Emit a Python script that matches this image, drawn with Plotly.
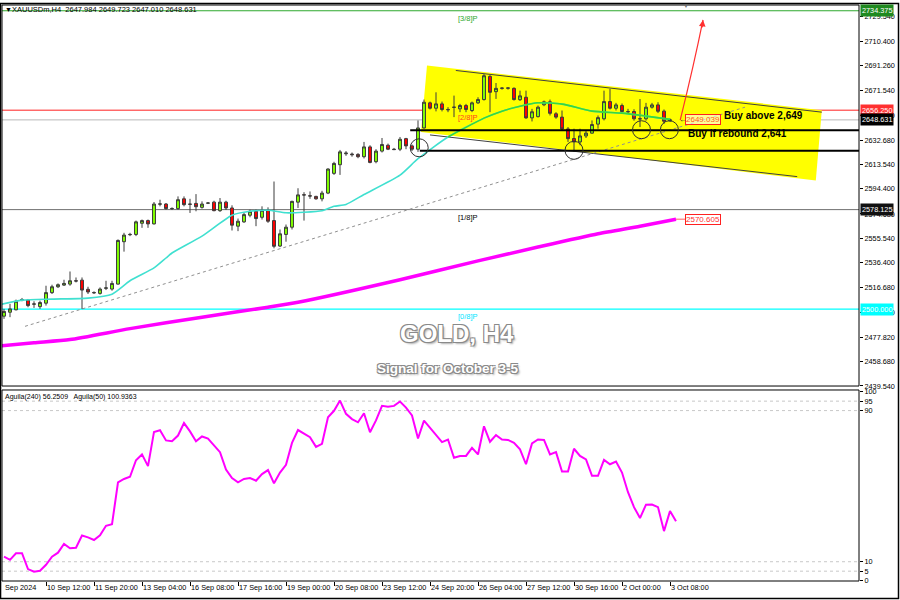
import plotly.graph_objects as go

# ---------------- data ----------------
bar_index = list(range(112))
open_ = [2494.4, 2497.5, 2499.4, 2507.0, 2507.1, 2503.8, 2501.9, 2504.6, 2512.9, 2517.5,
         2518.8, 2519.6, 2522.2, 2522.7, 2515.5, 2513.0, 2512.3, 2516.3, 2515.7, 2519.6,
         2552.9, 2558.4, 2558.6, 2567.4, 2569.5, 2566.9, 2582.4, 2582.5, 2578.9, 2578.9,
         2586.6, 2582.5, 2583.0, 2579.9, 2583.2, 2584.0, 2577.3, 2584.0, 2579.4, 2565.1,
         2568.5, 2573.7, 2576.8, 2572.1, 2577.6, 2569.5, 2549.5, 2558.6, 2564.3, 2584.0,
         2589.8, 2589.0, 2588.5, 2586.6, 2591.1, 2606.6, 2613.4, 2622.0, 2621.8, 2621.5,
         2619.7, 2627.4, 2615.8, 2624.1, 2628.7, 2625.6, 2625.6, 2633.9, 2628.2, 2625.6,
         2642.3, 2662.0, 2657.8, 2661.2, 2656.8, 2658.4, 2657.3, 2659.9, 2656.0, 2662.0,
         2664.6, 2682.8, 2670.8, 2673.4, 2673.5, 2673.4, 2664.5, 2666.4, 2650.2, 2651.2,
         2660.5, 2662.8, 2653.4, 2650.8, 2641.5, 2634.0, 2631.3, 2636.0, 2638.2, 2645.3,
         2649.5, 2663.0, 2657.8, 2659.9, 2655.2, 2655.2, 2649.6, 2649.5, 2658.6, 2660.4,
         2655.5, 2647.984]
high = [2500.1, 2504.0, 2507.4, 2508.7, 2507.9, 2506.1, 2506.6, 2518.3, 2519.1, 2520.1,
        2523.0, 2529.5, 2524.8, 2524.8, 2517.5, 2513.9, 2517.0, 2522.2, 2522.2, 2554.7,
        2559.9, 2559.9, 2569.5, 2570.3, 2570.3, 2584.1, 2585.9, 2583.3, 2579.9, 2588.5,
        2588.5, 2586.6, 2590.3, 2584.6, 2584.0, 2585.1, 2587.2, 2585.1, 2581.5, 2571.1,
        2575.5, 2578.1, 2578.1, 2580.7, 2579.9, 2600.2, 2562.5, 2566.4, 2585.1, 2594.9,
        2591.8, 2592.4, 2589.0, 2592.9, 2610.6, 2615.7, 2625.0, 2624.1, 2623.0, 2622.5,
        2631.3, 2628.7, 2625.6, 2634.4, 2630.0, 2626.6, 2635.2, 2634.5, 2629.3, 2648.2,
        2664.6, 2663.0, 2670.3, 2663.0, 2658.6, 2667.7, 2661.2, 2661.2, 2663.0, 2666.4,
        2684.6, 2683.8, 2677.6, 2674.2, 2674.0, 2674.2, 2671.6, 2671.6, 2657.3, 2659.9,
        2663.8, 2664.6, 2654.7, 2656.0, 2643.0, 2641.7, 2641.7, 2640.4, 2648.2, 2652.1,
        2671.6, 2672.9, 2662.0, 2661.5, 2657.3, 2657.0, 2665.0, 2662.0, 2662.0, 2662.5,
        2656.8, 2649.723]
low = [2492.3, 2493.6, 2498.9, 2506.1, 2501.4, 2500.9, 2500.1, 2502.7, 2511.8, 2516.5,
       2518.1, 2518.3, 2520.9, 2500.1, 2511.8, 2511.8, 2511.3, 2514.9, 2514.4, 2519.1,
       2545.1, 2557.3, 2557.3, 2563.8, 2563.8, 2566.4, 2580.7, 2578.1, 2577.8, 2578.1,
       2580.7, 2575.5, 2576.8, 2578.9, 2582.5, 2576.8, 2576.3, 2577.8, 2561.7, 2561.2,
       2567.7, 2572.1, 2565.1, 2570.3, 2567.7, 2547.7, 2548.7, 2552.9, 2562.5, 2579.4,
       2569.5, 2586.6, 2585.9, 2584.6, 2590.3, 2605.4, 2605.4, 2620.4, 2619.7, 2618.5,
       2618.3, 2614.5, 2614.5, 2623.0, 2624.9, 2624.9, 2624.1, 2625.6, 2624.1, 2623.5,
       2641.7, 2656.8, 2655.3, 2655.3, 2654.7, 2650.8, 2654.7, 2654.7, 2654.7, 2661.2,
       2663.8, 2654.7, 2665.1, 2672.4, 2672.4, 2663.8, 2663.5, 2649.5, 2647.4, 2650.5,
       2659.4, 2652.1, 2649.5, 2640.4, 2631.3, 2623.5, 2628.7, 2634.4, 2637.8, 2641.7,
       2648.2, 2656.8, 2656.0, 2654.0, 2653.4, 2648.0, 2643.0, 2648.0, 2657.5, 2654.0,
       2645.5, 2647.010]
close = [2498.1, 2500.1, 2506.1, 2507.4, 2502.7, 2504.0, 2505.1, 2512.9, 2517.5, 2519.1,
         2520.1, 2522.2, 2522.0, 2514.9, 2513.4, 2512.8, 2515.7, 2516.6, 2520.1, 2553.9,
         2558.1, 2558.6, 2568.5, 2569.5, 2566.9, 2582.5, 2582.6, 2578.9, 2579.0, 2585.9,
         2582.0, 2582.3, 2580.4, 2582.5, 2583.3, 2577.3, 2584.0, 2579.4, 2565.9, 2569.0,
         2574.2, 2576.8, 2571.1, 2577.6, 2569.0, 2549.3, 2559.1, 2564.3, 2584.6, 2589.7,
         2589.6, 2588.8, 2586.6, 2591.1, 2610.0, 2614.4, 2623.5, 2622.5, 2621.3, 2619.7,
         2627.4, 2615.2, 2624.1, 2629.3, 2625.6, 2625.3, 2633.4, 2628.2, 2625.6, 2642.3,
         2662.5, 2657.8, 2661.2, 2656.8, 2656.6, 2658.6, 2659.9, 2656.8, 2662.0, 2664.6,
         2683.3, 2670.3, 2673.4, 2673.6, 2673.7, 2664.6, 2667.5, 2650.2, 2655.0, 2658.6,
         2662.8, 2653.8, 2650.8, 2641.5, 2633.9, 2631.3, 2636.0, 2638.2, 2645.0, 2650.4,
         2663.0, 2657.8, 2660.4, 2655.2, 2655.0, 2649.5, 2649.4, 2658.6, 2660.4, 2655.4,
         2647.6, 2648.631]

ma_fast_idx = [-1, 3, 8, 14, 18, 21, 25, 27, 28, 33, 38, 41, 44, 47, 50, 53, 55, 57, 60,
               66, 69, 74, 80, 83, 86, 89, 93, 98, 103, 107, 111]
ma_fast_val = [2503.1, 2507.0, 2507.8, 2508.6, 2511.7, 2522.2, 2532.3, 2540.1, 2544.0,
               2557.3, 2573.7, 2576.8, 2577.6, 2575.6, 2576.0, 2577.2, 2580.7, 2582.2,
               2590.0, 2605.2, 2618.1, 2635.2, 2650.0, 2655.5, 2659.4, 2662.1, 2661.0,
               2655.5, 2653.9, 2651.6, 2649.0]
ma_slow_idx = [-1, 5, 11, 21, 33, 44, 49, 66, 79, 89, 99, 106, 112]
ma_slow_val = [2470.8, 2473.5, 2476.0, 2484.6, 2493.6, 2501.4, 2505.3, 2523.0, 2537.8,
               2548.7, 2559.2, 2565.1, 2570.6]

aguila = [12.7, 11.0, 14.5, 14.5, 6.1, 4.7, 5.2, 8.4, 12.7, 14.8, 19.4, 17.1, 17.4, 23.9,
          22.9, 21.5, 24.0, 29.0, 29.8, 52.0, 53.8, 55.0, 63.7, 66.8, 60.6, 78.7, 79.6,
          74.2, 73.8, 76.8, 83.4, 79.0, 73.8, 76.3, 75.2, 71.6, 68.0, 58.8, 54.3, 52.0,
          53.8, 54.3, 52.9, 56.4, 58.5, 51.5, 57.2, 61.3, 72.9, 79.7, 77.6, 75.9, 70.8,
          72.4, 86.5, 89.9, 95.3, 88.3, 85.5, 83.8, 88.6, 78.5, 84.8, 92.5, 92.0, 92.5,
          94.8, 91.6, 87.4, 75.2, 84.7, 80.8, 77.3, 73.3, 74.7, 65.0, 66.0, 66.0, 70.3,
          66.8, 81.7, 73.5, 77.0, 74.7, 74.5, 72.9, 69.5, 61.6, 72.6, 74.7, 74.5, 66.8,
          68.0, 57.7, 57.7, 69.8, 66.0, 64.2, 55.5, 55.5, 63.9, 61.6, 63.0, 57.2, 46.8,
          38.9, 33.1, 40.2, 40.3, 38.9, 26.2, 36.8, 31.4]
aguila_idx = list(range(len(aguila)))

price_ticks = [2729.54, 2710.40, 2691.26, 2671.54, 2652.40, 2632.68, 2613.54, 2594.40,
               2574.68, 2555.54, 2536.40, 2516.68, 2497.54, 2477.82, 2458.68, 2439.54]
ind_ticks = [0, 5, 10, 90, 95, 100]
ind_levels = [95, 90, 10, 5]
time_tick_idx = [7, 15, 23, 31, 39, 47, 55, 63, 71, 79, 87, 95, 103, 111]
time_tick_text = ["10 Sep 12:00", "11 Sep 20:00", "13 Sep 04:00", "16 Sep 08:00",
                  "17 Sep 16:00", "19 Sep 00:00", "20 Sep 08:00", "23 Sep 12:00",
                  "24 Sep 20:00", "26 Sep 04:00", "27 Sep 12:00", "30 Sep 16:00",
                  "2 Oct 00:00", "3 Oct 08:00"]

murrey_levels = [2734.375, 2656.250, 2578.125, 2500.000]
murrey_names = ["[3/8]P", "[2/8]P", "[1/8]P", "[0/8]P"]
murrey_colors = ["#2ea82e", "#ff2020", "#707070", "#00ffff"]
murrey_text_colors = ["#2ea82e", "#ff4020", "#000000", "#00e5ff"]
murrey_box_colors = ["#1f8a1f", "#ff3030", "#111111", "#00ffff"]
bid_price = 2648.631
buy_above = 2649
buy_rebound = 2641
ma_fast_last = 2649.039
ma_slow_last = 2570.605
header = "XAUUSDm,H4  2647.984 2649.723 2647.010 2648.631"
ind_header = "Aguila(240) 56.2509   Aguila(50) 100.9363"

# drawing objects (bar index, price)
channel_poly = [(70.5, 2691.35), (136.3, 2656.28), (135.3, 2600.94), (69.5, 2639.13)]
channel_upper = [(75.3, 2687.45), (136.3, 2654.7)]
channel_lower = [(71.0, 2636.79), (132.2, 2604.05)]
trend_line = [(3.5, 2486.4), (123.5, 2658.6)]
support_lines = [(67.7, 2640.5), (69.3, 2624.3)]
circles = [(69.2, 2626.7), (95.0, 2624.7), (106.25, 2640.9), (110.9, 2640.9)]
arrow_path = [(112.7, 2648.5), (115.0, 2692.1), (116.5, 2727.2)]

FONT = "Liberation Sans, Arial, sans-serif"
SMALL = 7.3
XMIN, XMAX = -0.333, 142.5
YMIN, YMAX = 2439.5, 2738.9

fig = go.Figure()

fig.add_trace(go.Candlestick(
    x=bar_index, open=open_, high=high, low=low, close=close,
    increasing=dict(line=dict(color="#3c3c3c", width=1), fillcolor="#80ff00"),
    decreasing=dict(line=dict(color="#3c3c3c", width=1), fillcolor="#ff0000"),
    whiskerwidth=0, showlegend=False, hoverinfo="skip", xaxis="x", yaxis="y"))

fig.add_trace(go.Scatter(x=ma_slow_idx, y=ma_slow_val, mode="lines",
                         line=dict(color="#ff00ff", width=3.5, shape="spline", smoothing=0.6),
                         showlegend=False, hoverinfo="skip", yaxis="y"))
fig.add_trace(go.Scatter(x=ma_fast_idx, y=ma_fast_val, mode="lines",
                         line=dict(color="#40e0d0", width=1.6, shape="spline", smoothing=0.6),
                         showlegend=False, hoverinfo="skip", yaxis="y"))
green_part = [(i, v) for i, v in zip(ma_fast_idx, ma_fast_val) if i >= 74]
fig.add_trace(go.Scatter(x=[p[0] for p in green_part], y=[p[1] for p in green_part],
                         mode="lines",
                         line=dict(color="#3ad83a", width=1.6, shape="spline", smoothing=0.6),
                         showlegend=False, hoverinfo="skip", yaxis="y"))

fig.add_trace(go.Scatter(x=aguila_idx, y=aguila, mode="lines",
                         line=dict(color="#ff00ff", width=2),
                         showlegend=False, hoverinfo="skip", xaxis="x", yaxis="y2"))

shapes = []
path = "M " + " L ".join(f"{x},{y}" for x, y in channel_poly) + " Z"
shapes.append(dict(type="path", path=path, xref="x", yref="y", fillcolor="#ffff00",
                   line=dict(color="#ffff00", width=0), layer="below"))
for seg in (channel_upper, channel_lower):
    shapes.append(dict(type="line", xref="x", yref="y", x0=seg[0][0], y0=seg[0][1],
                       x1=seg[1][0], y1=seg[1][1], line=dict(color="#404040", width=1),
                       layer="below"))
for lvl, col in zip(murrey_levels, murrey_colors):
    shapes.append(dict(type="line", xref="paper", yref="y", x0=0, x1=1, y0=lvl, y1=lvl,
                       line=dict(color=col, width=1.3 if col == "#00ffff" else 1),
                       layer="below"))
shapes.append(dict(type="line", xref="paper", yref="y", x0=0, x1=1, y0=bid_price,
                   y1=bid_price, line=dict(color="#b8b8b8", width=1), layer="below"))
shapes.append(dict(type="line", xref="x", yref="y", x0=trend_line[0][0], y0=trend_line[0][1],
                   x1=trend_line[1][0], y1=trend_line[1][1],
                   line=dict(color="#909090", width=1, dash="dot"), layer="below"))
for x0, lvl in support_lines:
    shapes.append(dict(type="line", xref="x", yref="y", x0=x0, x1=XMAX, y0=lvl, y1=lvl,
                       line=dict(color="#000000", width=2), layer="above"))
for cx, cy in circles:
    shapes.append(dict(type="circle", xref="x", yref="y", xsizemode="pixel",
                       ysizemode="pixel", xanchor=cx, yanchor=cy, x0=-9, x1=9, y0=-9, y1=9,
                       line=dict(color="#303030", width=1), layer="above"))
(ax0, ay0), (acx, acy), (ax1, ay1) = arrow_path
shapes.append(dict(type="path", xref="x", yref="y",
                   path=f"M {ax0},{ay0} Q {acx},{acy} {ax1},{ay1}",
                   line=dict(color="#ff3030", width=1.2), layer="above"))
shapes.append(dict(type="line", xref="x", yref="y", x0=112, x1=113.5, y0=ma_slow_last,
                   y1=ma_slow_last, line=dict(color="#ff6060", width=1)))
for lv in ind_levels:
    shapes.append(dict(type="line", xref="paper", yref="y2", x0=0, x1=1, y0=lv, y1=lv,
                       line=dict(color="#c8c8c8", width=1, dash="dot"), layer="below"))
shapes.append(dict(type="rect", xref="paper", yref="y domain", x0=0, x1=1, y0=0, y1=1,
                   line=dict(color="#000000", width=1)))
shapes.append(dict(type="rect", xref="paper", yref="y2 domain", x0=0, x1=1, y0=0, y1=1,
                   line=dict(color="#000000", width=1)))
shapes.append(dict(type="rect", xref="paper", yref="paper", x0=-0.0017, x1=1.0461,
                   y0=-0.0302, y1=1.0026, line=dict(color="#000000", width=1.5)))

ann = []
def txt(x, y, s, size=SMALL, color="black", xref="x", yref="y", xanchor="left",
        yanchor="middle", bold=False, **kw):
    d = dict(x=x, y=y, xref=xref, yref=yref, text=s, showarrow=False, xanchor=xanchor,
             yanchor=yanchor, font=dict(family=FONT, size=size, color=color,
                                        weight="bold" if bold else "normal"))
    d.update(kw)
    ann.append(d)

txt(0.0012, 0.9914, "▼", size=7, xref="paper", yref="paper")
txt(0.0095, 0.9914, header, size=7.5, xref="paper", yref="paper")
txt(0.0, 0.3195, ind_header, size=7, xref="paper", yref="paper", xshift=1)
txt(0.798, 0.9985, "▼", size=6, color="#707070", xref="paper", yref="paper",
    xanchor="center")

for lvl, nm, tc in zip(murrey_levels, murrey_names, murrey_text_colors):
    txt(75.3, lvl, nm, size=7.5, color=tc, yanchor="top", yshift=-1)

for lvl, bc in zip(murrey_levels, murrey_box_colors):
    txt(1, lvl, f"{lvl:.3f}", color="white", xref="paper", bgcolor=bc,
        borderpad=1, xshift=1)
txt(1, bid_price, f"{bid_price:.3f}", color="white", xref="paper",
    bgcolor="#000000", borderpad=1, xshift=1)

txt(113.5, ma_fast_last, f"{ma_fast_last:.3f}", size=8, color="#ff5a1a",
    bgcolor="rgba(255,255,255,0.6)", bordercolor="#ff2020", borderwidth=1, borderpad=0)
txt(113.5, ma_slow_last, f"{ma_slow_last:.3f}", size=8, color="#ff3030",
    bgcolor="#ffffff", bordercolor="#ff2020", borderwidth=1, borderpad=0)
txt(112.1, ma_fast_last, "←", size=8, color="#202020", xanchor="left")

txt(119.7, 2652.1, f"Buy above {buy_above:,}", size=10, bold=True)
txt(113.7, 2637.8, f"Buy if rebound {buy_rebound:,}", size=10, bold=True)

ann.append(dict(x=arrow_path[2][0], y=arrow_path[2][1], xref="x", yref="y", text="",
                showarrow=True, arrowhead=2, arrowsize=1.1, arrowwidth=1.2,
                arrowcolor="#ff3030", ax=-1, ay=9))

shadow = ("1px 1px 0 #8a8a8a, -1px -1px 0 #8a8a8a, 1px -1px 0 #8a8a8a, "
          "-1px 1px 0 #8a8a8a, 2px 2px 2px #b0b0b0")
ann.append(dict(x=75.5, y=2480.9, xref="x", yref="y", text="GOLD, H4", showarrow=False,
                xanchor="center", yanchor="middle",
                font=dict(family=FONT, size=24, color="white", weight="bold",
                          shadow=shadow)))
ann.append(dict(x=74.0, y=2453.6, xref="x", yref="y", text="Signal for October 3-5",
                showarrow=False, xanchor="center", yanchor="middle",
                font=dict(family=FONT, size=13.5, color="white", weight="bold",
                          shadow=shadow)))

txt(0.0012, -0.0121, "Sep 2024", xref="paper", yref="paper")
for ti, tt in zip(time_tick_idx, time_tick_text):
    txt(ti, -0.0121, tt, yref="paper", xshift=-1)

fig.update_layout(
    width=900, height=600,
    margin=dict(l=2, r=41, t=2, b=19),
    paper_bgcolor="white", plot_bgcolor="white",
    showlegend=False,
    shapes=shapes, annotations=ann,
    xaxis=dict(domain=[0, 1], range=[XMIN, XMAX], anchor="y2", showgrid=False,
               zeroline=False, tickvals=time_tick_idx, showticklabels=False,
               ticks="outside", ticklen=4, tickcolor="#000000",
               rangeslider=dict(visible=False), fixedrange=True),
    yaxis=dict(domain=[0.3385, 1], range=[YMIN, YMAX], side="right", anchor="x",
               tickvals=price_ticks, ticktext=[f"{v:.3f}" for v in price_ticks],
               ticks="outside", ticklen=3, tickcolor="#000000", showgrid=False,
               zeroline=False, tickfont=dict(family=FONT, size=SMALL, color="#000000"),
               fixedrange=True),
    yaxis2=dict(domain=[0, 0.3316], range=[-0.2, 100.9], side="right", anchor="x",
                tickvals=ind_ticks, ticktext=[str(v) for v in ind_ticks],
                ticks="outside", ticklen=3, tickcolor="#000000", showgrid=False,
                zeroline=False, tickfont=dict(family=FONT, size=SMALL, color="#000000"),
                fixedrange=True),
)

fig.write_html("out.html", config={"displayModeBar": False},
               post_script="document.body.style.margin='0px';")
